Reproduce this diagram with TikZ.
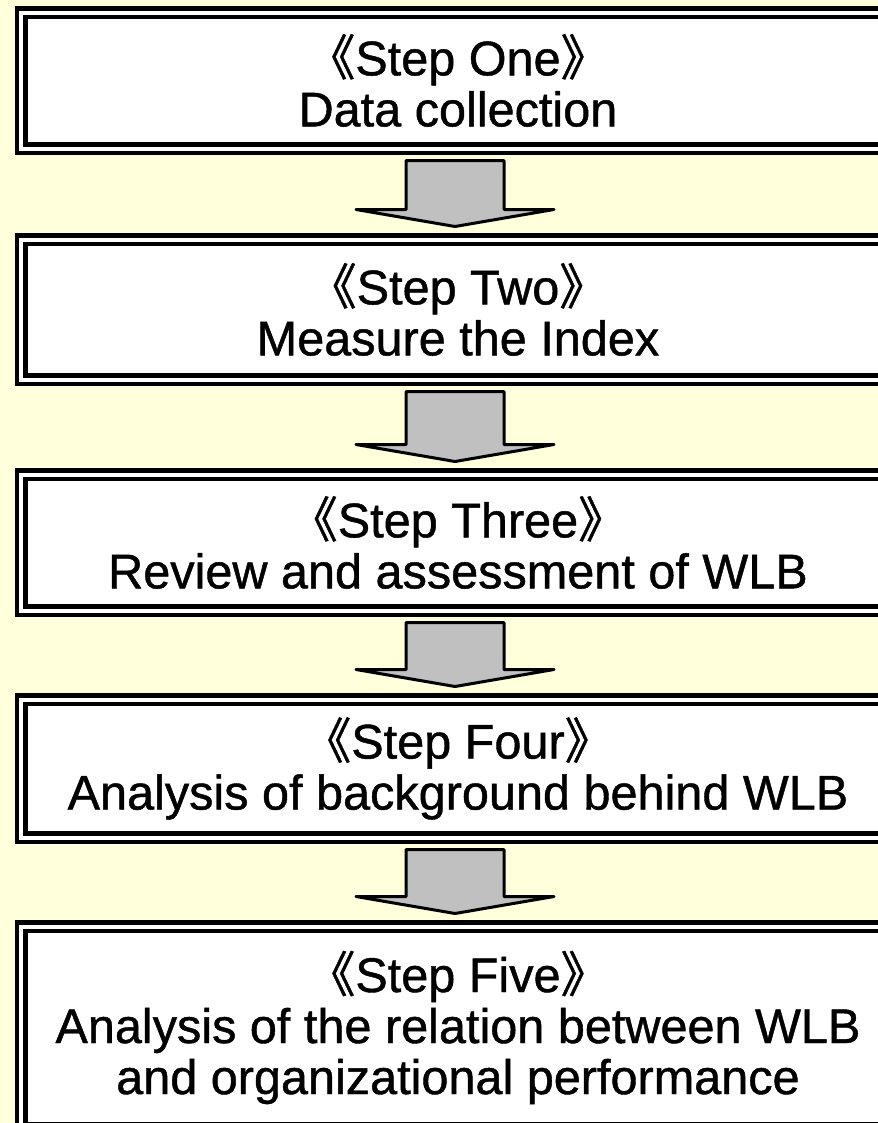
\documentclass[tikz,border=0pt]{standalone}
\usepackage{fontspec}
\setmainfont{Liberation Sans}
\newfontfamily\heavy{Liberation Sans}[UprightFeatures={FakeBold=0.9}]
\newfontfamily\cjk{Noto Sans CJK JP}[UprightFeatures={FakeBold=0.9}]
\usetikzlibrary{calc}
\definecolor{paper}{RGB}{255,255,220}
\definecolor{arrowgray}{RGB}{192,192,192}
% step title between double angle brackets
\newcommand\stepname[1]{{\cjk 《}#1{\cjk 》}}
% block arrow from the bottom of one step to the top of the next
\newcommand\flowarrow[2]{%
  \draw[blockarrow]
    ($(#1.south)+(-52,12)$) -- ($(#1.south)+(46,12)$)
    -- ($(#2.north)+(46,-30)$) -- ($(#2.north)+(96,-30)$)
    -- ($(#2.north)+(-3,-13)$) -- ($(#2.north)+(-102,-30)$)
    -- ($(#2.north)+(-52,-30)$) -- cycle;}
\begin{document}
\begin{tikzpicture}[x=1bp,y=-1bp,
  stepbox/.style={draw=black, line width=4.4bp, double=white,
    double distance=4bp, fill=white, minimum width=873bp,
    outer sep=0pt, inner sep=0pt, align=center,
    font=\fontsize{48.6bp}{51bp}\heavy},
  blockarrow/.style={draw=black, line width=3bp, fill=arrowgray,
    line join=round}]
\clip (0,0) rectangle (878,1123);
\fill[paper] (0,0) rectangle (878,1123);

\node[stepbox, minimum height=136bp] (s1) at (458,80.5)
  {\stepname{Step One}\\Data collection};
\node[stepbox, minimum height=140bp] (s2) at (458,309.5)
  {\stepname{Step Two}\\Measure the Index};
\node[stepbox, minimum height=136bp] (s3) at (458,542.5)
  {\stepname{Step Three}\\Review and assessment of WLB};
\node[stepbox, minimum height=138bp] (s4) at (458,768.5)
  {\stepname{Step Four}\\Analysis of background behind WLB};
\node[stepbox, minimum height=202bp] (s5) at (458,1027.5)
  {\stepname{Step Five}\\Analysis of the relation between WLB\\and organizational performance};

\flowarrow{s1}{s2}
\flowarrow{s2}{s3}
\flowarrow{s3}{s4}
\flowarrow{s4}{s5}
\end{tikzpicture}
\end{document}
